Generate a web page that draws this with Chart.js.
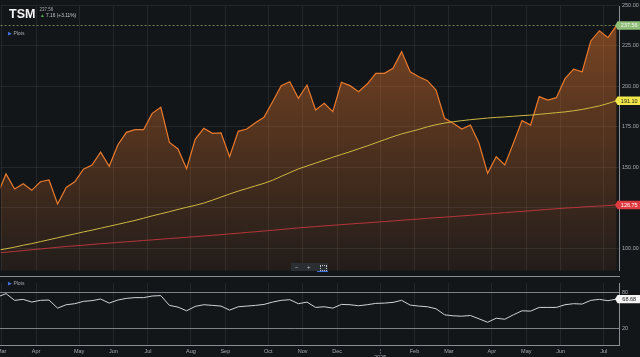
<!DOCTYPE html>
<html><head><meta charset="utf-8">
<script src="https://cdn.jsdelivr.net/npm/chart.js@4.4.1/dist/chart.umd.min.js"></script>
<style>
html,body{margin:0;padding:0;background:#131619;width:640px;height:357px;overflow:hidden;font-family:'Liberation Sans',Arial,sans-serif;}
#mainWrap{position:absolute;left:0;top:0;width:640px;height:277px;}
#lowerWrap{position:absolute;left:-30px;top:277px;width:670px;height:80px;}
#sep{position:absolute;left:0;top:275.5px;width:620px;height:1.5px;background:#8a8d91;}
.t{position:absolute;white-space:nowrap;line-height:1;}
#sym{left:9px;top:8.4px;font-size:12.5px;font-weight:bold;color:#f4f5f6;}
#last{left:39.5px;top:8.3px;font-size:4.5px;color:#a6aaaf;}
#chg{left:40px;top:13.8px;font-size:4.8px;color:#c9ccd0;}
#chg b{color:#53b34f;font-weight:normal;}
.plots{font-size:5px;color:#a6aaaf;}
.plots b{color:#3f6fe0;font-weight:normal;font-size:4.5px;}
#zoomCtl{position:absolute;left:291px;top:263px;width:37px;height:8px;background:#2b2e33;color:#c3c6ca;font-size:6px;}
#zoomCtl span{position:absolute;top:1px;line-height:6px;}
#zoomBar{position:absolute;left:316.5px;top:270.6px;width:11.5px;height:1.2px;background:#3d6ee0;}
#fs{position:absolute;left:29px;top:1.5px;width:5px;height:4px;border:1px dotted #c3c6ca;}
</style></head>
<body>
<div id="mainWrap"><canvas id="main"></canvas></div>
<div id="lowerWrap"><canvas id="lower"></canvas></div>
<div id="sep"></div>
<div class="t" id="sym">TSM</div>
<div class="t" id="last">237.56</div>
<div class="t" id="chg"><b>▲</b> 7.16 (+3.11%)</div>
<div class="t plots" style="left:8px;top:30.5px;"><b>▶</b> Plots</div>
<div class="t plots" style="left:8px;top:280.5px;"><b>▶</b> Plots</div>
<div id="zoomCtl"><span style="left:4px;">−</span><span style="left:16px;">+</span><div id="fs"></div></div>
<div id="zoomBar"></div>
<script>
// Weekly bars; index 0 = week of 2024-03-04 (index -1 = week of 2024-02-26, partly off-screen)
const firstBarIndex = -1;
const closePrice = [
  133.1,
  145.9,136.6,139.9,135.8,141.1,142.2,127.3,137.6,141.1,148.8,
  151.4,159.4,150.6,163.8,171.6,173.2,173.2,183.3,187.0,165.4,
  161.3,149.1,167.3,174.1,171.0,171.2,156.5,172.2,173.6,177.5,
  180.9,190.5,200.4,202.8,192.6,200.8,185.4,189.5,184.3,202.5,
  200.4,196.7,201.4,208.0,208.0,211.1,221.4,209.0,205.9,203.5,
  197.7,180.2,177.2,173.6,176.1,164.8,146.3,156.5,151.4,164.8,
  178.8,176.1,193.6,191.5,193.0,204.7,210.6,209.0,228.0,234.3,
  230.0,237.56
];
const maYellow = [
  98.7,
  99.7,100.7,101.9,102.9,104.1,105.3,106.5,107.7,108.9,110.1,
  111.2,112.4,113.6,114.8,116.0,117.2,118.6,120.0,121.3,122.6,
  124.0,125.3,126.5,127.9,129.7,131.6,133.5,135.3,136.9,138.5,
  140.1,142.0,144.4,146.7,149.0,150.8,152.6,154.4,156.2,157.9,
  159.6,161.4,163.2,165.1,167.0,168.9,170.6,172.0,173.4,175.0,
  176.3,177.3,178.1,178.8,179.4,179.9,180.4,180.8,181.1,181.5,
  181.9,182.2,182.7,183.2,183.7,184.2,184.9,185.7,186.8,187.9,
  189.4,191.10
];
const maRed = [
  97.1,
  97.6,98.1,98.6,99.1,99.6,100.1,100.6,101.1,101.5,101.9,
  102.4,102.8,103.2,103.6,104.0,104.4,104.8,105.2,105.6,106.0,
  106.4,106.8,107.2,107.6,108.0,108.4,108.9,109.3,109.8,110.2,
  110.7,111.1,111.6,112.1,112.6,113.0,113.4,113.8,114.2,114.6,
  115.0,115.4,115.7,116.1,116.5,116.9,117.3,117.7,118.1,118.5,
  118.9,119.2,119.6,120.0,120.4,120.8,121.2,121.6,122.0,122.4,
  122.8,123.2,123.6,124.0,124.4,124.8,125.1,125.5,125.8,126.1,
  126.4,126.75
];
const rsi = [
  72.1,
  77.8,66.6,68.2,63.7,66.6,67.1,53.6,59.3,61.0,64.9,
  66.1,68.8,62.0,67.1,69.9,71.1,71.1,73.8,74.5,58.2,
  55.3,49.2,56.5,59.3,58.2,57.0,50.3,55.9,57.0,58.2,
  59.8,63.7,66.6,67.7,61.0,63.7,54.8,55.9,53.6,59.8,
  59.3,57.6,59.3,61.5,62.0,63.2,66.6,58.7,57.0,55.9,
  52.6,42.5,40.8,40.2,41.3,35.8,30.1,36.8,35.1,42.5,
  49.2,48.6,54.8,54.8,54.8,59.3,61.0,60.4,66.6,68.2,
  66.0,68.68
];
const monthTickPos = [-0.5,3.5,8.5,12.5,16.5,21.5,25.5,30.5,34.5,38.5,43.5,47.5,51.5,56.5,60.5,64.5,69.5];
const monthLabels = ['Mar','Apr','May','Jun','Jul','Aug','Sep','Oct','Nov','Dec',['¦','2025'],'Feb','Mar','Apr','May','Jun','Jul'];
const priceTicks = [100,125,150,175,200,225,250];
const rsiTicks = [20,80];

const GRID = 'rgba(255,255,255,0.075)';
const TXT = '#a6aaaf';
const FONT = {family:"'Liberation Sans', Arial, sans-serif", size:5.5};
const toPts = arr => arr.map((v,i)=>({x:i+firstBarIndex,y:v}));

// layout targets (page pixels): bar 0 centre, bar spacing, and two reference levels per panel
const BAR0_PX = 6, BAR_PX = 8.6;
const MAIN_REF = {pxA:248.3, vA:100, pxB:5.3, vB:250, top:0, left:0};
const LOWER_REF = {pxA:292.3, vA:80, pxB:328.3, vB:20, top:277, left:-30};

function tag(ctx, left, y, text, bg, fg, right){
  const h = 8.4;
  ctx.save();
  ctx.beginPath();
  ctx.moveTo(left-2.5, y);
  ctx.lineTo(left, y-h/2);
  ctx.lineTo(right, y-h/2);
  ctx.lineTo(right, y+h/2);
  ctx.lineTo(left, y+h/2);
  ctx.closePath();
  ctx.fillStyle = bg; ctx.fill();
  ctx.fillStyle = fg;
  ctx.font = "5.5px 'Liberation Sans', Arial, sans-serif";
  ctx.textAlign = 'center'; ctx.textBaseline = 'middle';
  ctx.fillText(text, (left+right)/2+0.5, y+0.3);
  ctx.restore();
}

const mainTags = {
  id:'mainTags',
  afterDraw(chart){
    const {ctx, chartArea, scales, width} = chart;
    const lastP = closePrice[closePrice.length-1];
    const yP = scales.y.getPixelForValue(lastP);
    ctx.save();
    ctx.strokeStyle = '#8d9c5a'; ctx.lineWidth = 0.8; ctx.setLineDash([2,2]);
    ctx.beginPath(); ctx.moveTo(chartArea.left, yP); ctx.lineTo(chartArea.right, yP); ctx.stroke();
    ctx.restore();
    const L = chartArea.right - 1.5;
    tag(ctx, L, yP, lastP.toFixed(2), '#8fbe78', '#f2f6ee', width);
    const yY = maYellow[maYellow.length-1];
    tag(ctx, L, scales.y.getPixelForValue(yY), yY.toFixed(2), '#f1e64a', '#1b1b1b', width);
    const yR = maRed[maRed.length-1];
    tag(ctx, L, scales.y.getPixelForValue(yR), yR.toFixed(2), '#de3a3f', '#ffffff', width);
  }
};
const lowerTags = {
  id:'lowerTags',
  afterDraw(chart){
    const {ctx, chartArea, scales, width} = chart;
    const v = rsi[rsi.length-1];
    tag(ctx, chartArea.right - 1.5, scales.y.getPixelForValue(v), v.toFixed(2), '#f4f4f4', '#222', width);
  }
};

function xScaleOpts(showLabels){
  return {type:'linear', min:-4, max:71.28,
    afterBuildTicks:s=>{s.ticks = monthTickPos.map(v=>({value:v}));},
    ticks: showLabels
      ? {color:TXT, font:FONT, padding:3, maxRotation:0, autoSkip:false, callback:(v,i)=>monthLabels[i]}
      : {display:false},
    grid:{color:GRID, drawTicks:false},
    border: showLabels ? {display:true, color:'#8a8d91', width:1} : {display:false},
    afterFit:s=>{s.height = showLabels ? 12 : 0;}};
}

const mainChart = new Chart(document.getElementById('main'), {
  type:'line',
  data:{datasets:[
    {label:'TSM', data:toPts(closePrice), order:2, borderColor:'#e97a2c', borderWidth:1.2, pointRadius:0, tension:0, fill:'start',
     backgroundColor:(c)=>{const ca=c.chart.chartArea; if(!ca) return 'rgba(0,0,0,0)';
       const g=c.chart.ctx.createLinearGradient(0,0,0,276);
       g.addColorStop(0,'rgba(192,102,42,0.64)'); g.addColorStop(1,'rgba(192,102,42,0.08)'); return g;}},
    {label:'MA 1', data:toPts(maYellow), order:0, borderColor:'#cdb843', borderWidth:1, pointRadius:0, tension:0, fill:false},
    {label:'MA 2', data:toPts(maRed), order:1, borderColor:'#b8353b', borderWidth:1, pointRadius:0, tension:0, fill:false}
  ]},
  options:{
    animation:false, responsive:true, maintainAspectRatio:false,
    layout:{padding:0},
    plugins:{legend:{display:false}, tooltip:{enabled:false}},
    scales:{
      x:xScaleOpts(false),
      y:{position:'right', min:82.9, max:253.5,
         afterBuildTicks:s=>{s.ticks = priceTicks.map(v=>({value:v}));},
         ticks:{color:TXT, font:FONT, padding:3, callback:v=> v===125 ? '' : v.toFixed(2)},
         grid:{color:GRID, drawTicks:false}, border:{display:true, color:'#8a8d91', width:1},
         afterFit:s=>{s.width=21;}}
    }
  },
  plugins:[mainTags]
});

const lowerChart = new Chart(document.getElementById('lower'), {
  type:'line',
  data:{datasets:[
    {label:'RSI', data:toPts(rsi), borderColor:'#cfd2d6', borderWidth:1, pointRadius:0, tension:0, fill:false}
  ]},
  options:{
    animation:false, responsive:true, maintainAspectRatio:false,
    layout:{padding:0},
    plugins:{legend:{display:false}, tooltip:{enabled:false}},
    scales:{
      x:xScaleOpts(true),
      y:{position:'right', min:-7.8, max:105.5,
         afterBuildTicks:s=>{s.ticks = rsiTicks.map(v=>({value:v}));},
         ticks:{color:TXT, font:FONT, padding:3},
         grid:{color:'#7e8287', drawTicks:false}, border:{display:true, color:'#8a8d91', width:1},
         afterFit:s=>{s.width=21;}}
    }
  },
  plugins:[lowerTags]
});

// Pin both panels' scales to the common pixel layout (bar spacing and level positions)
function pin(chart, ref){
  for (let it=0; it<5; it++){
    const ca = chart.chartArea;
    chart.options.scales.x.min = (ca.left + ref.left - BAR0_PX)/BAR_PX;
    chart.options.scales.x.max = (ca.right + ref.left - BAR0_PX)/BAR_PX;
    const k = (ref.vB - ref.vA)/(ref.pxB - ref.pxA);
    chart.options.scales.y.max = ref.vA + (ca.top + ref.top - ref.pxA)*k;
    chart.options.scales.y.min = ref.vA + (ca.bottom + ref.top - ref.pxA)*k;
    chart.update('none');
  }
}
pin(mainChart, MAIN_REF);
pin(lowerChart, LOWER_REF);
</script>
</body></html>
